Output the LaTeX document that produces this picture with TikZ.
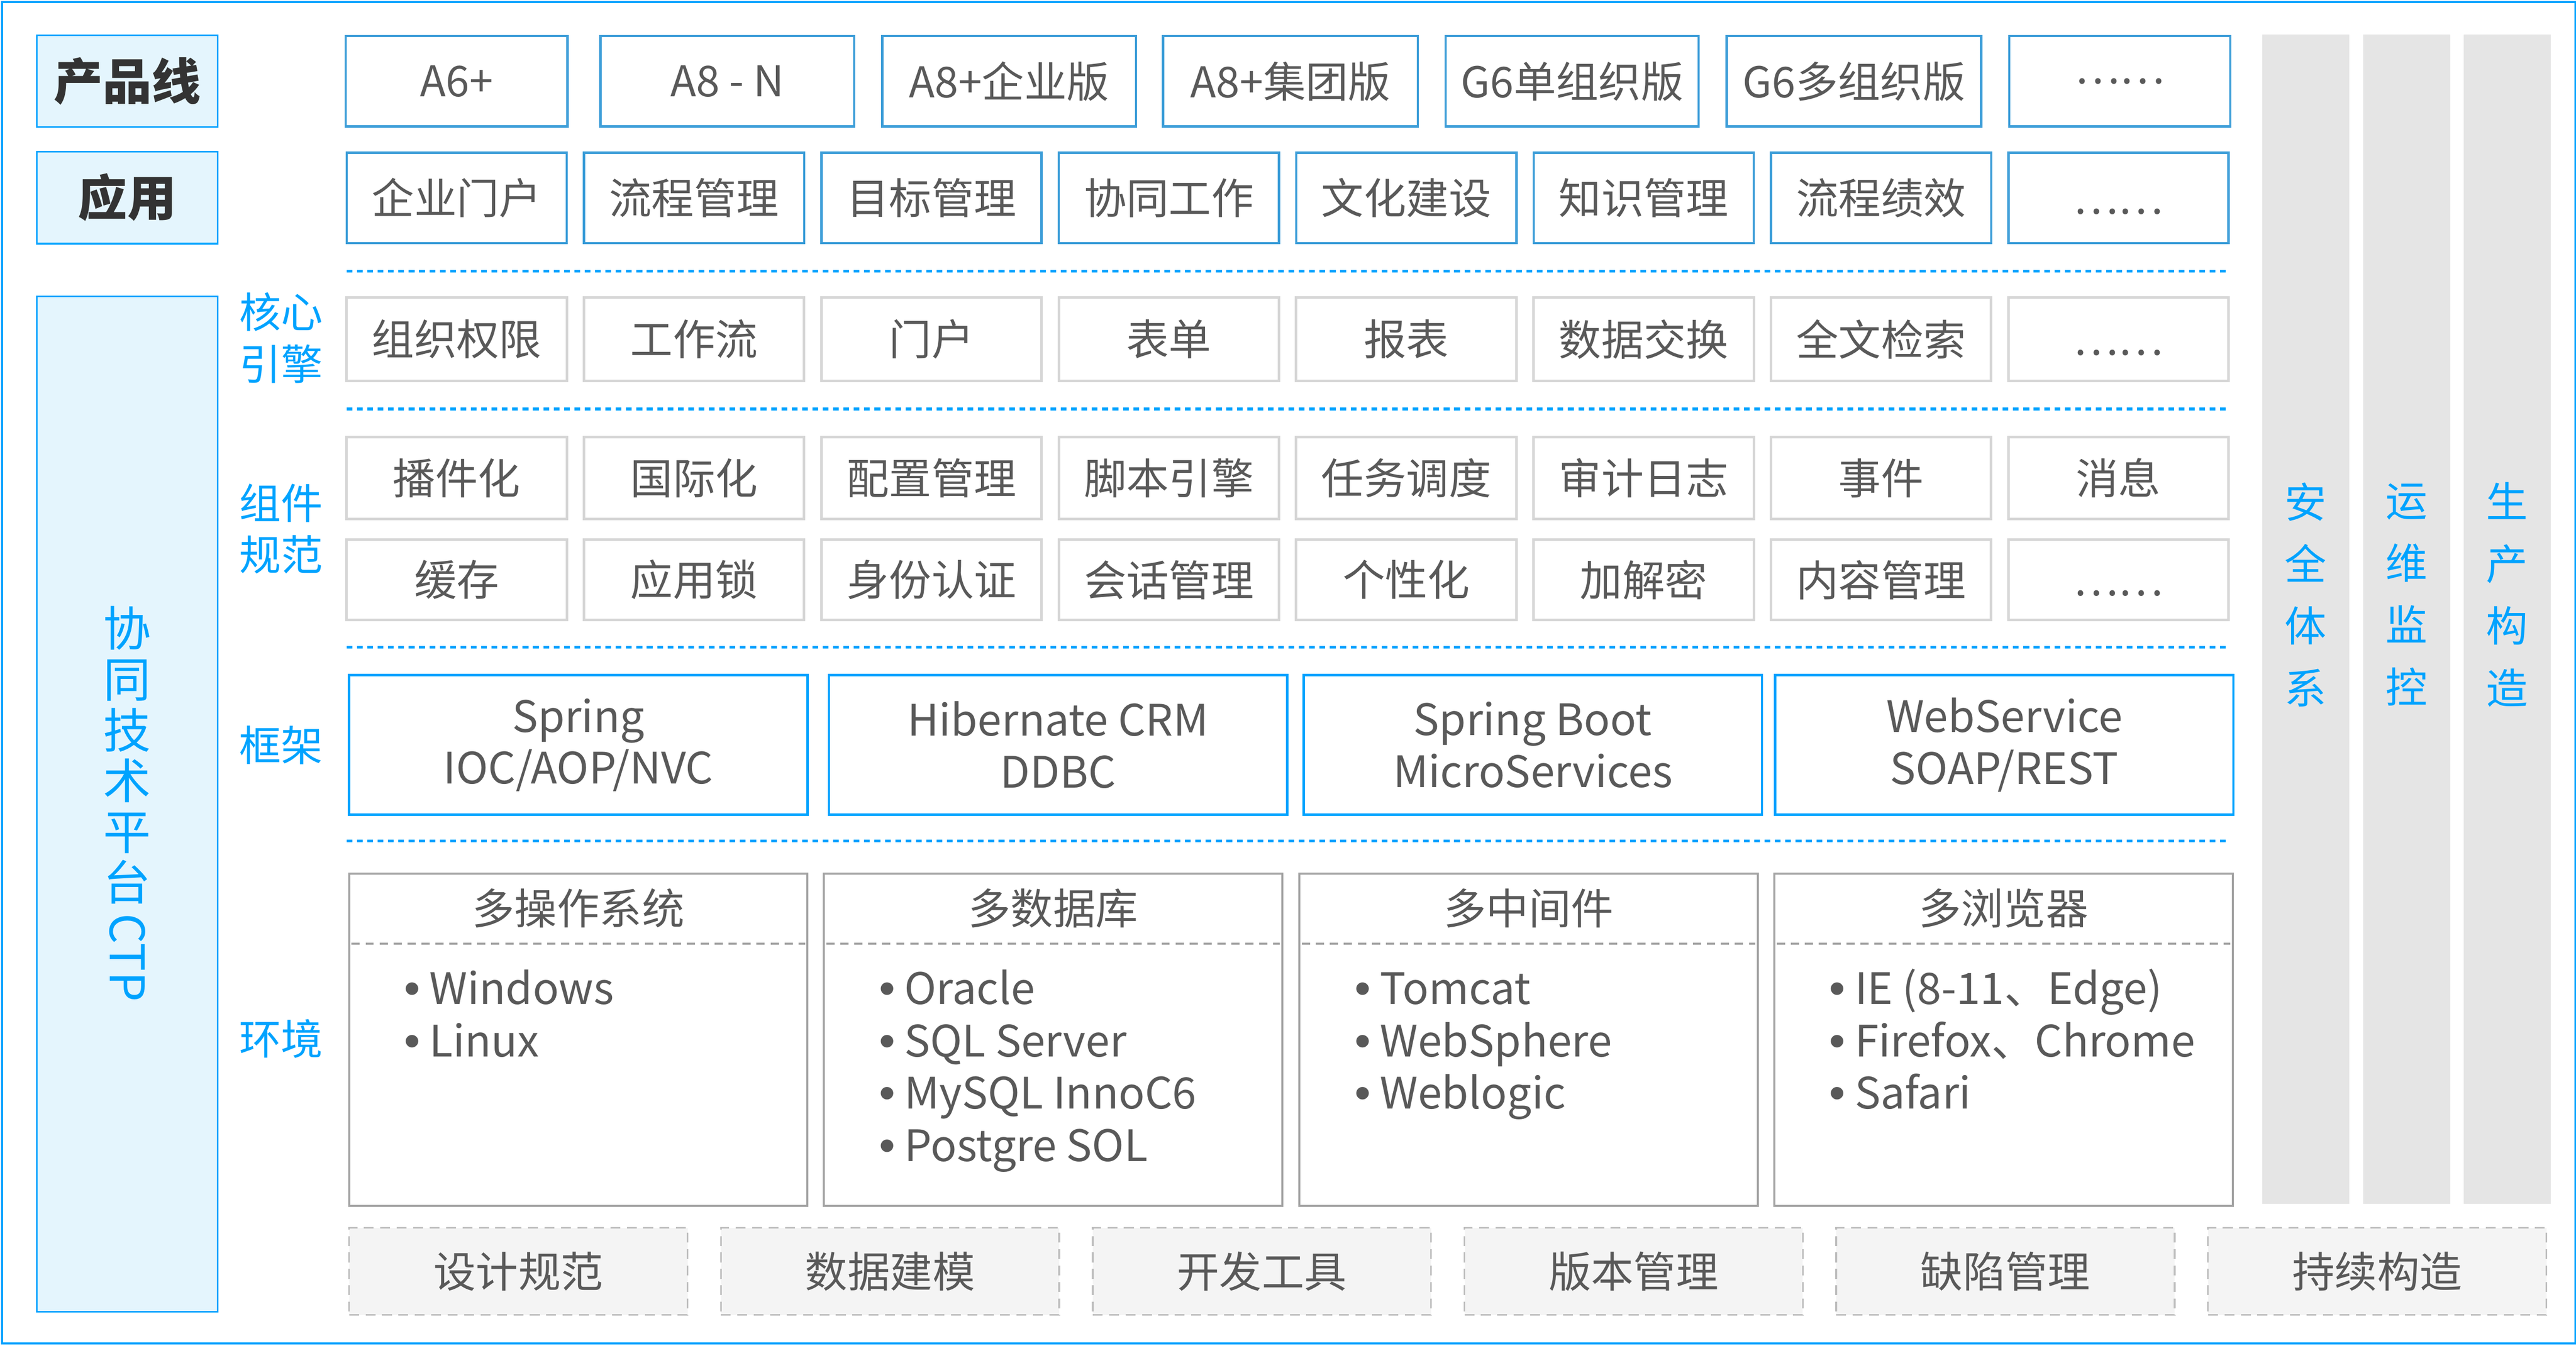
\documentclass[tikz,border=0pt]{standalone}
\usepackage{fontspec}
\setmainfont{Noto Sans CJK SC}
\newfontfamily\bulletfont{Liberation Sans}
\usetikzlibrary{positioning}
\definecolor{ctpblue}{HTML}{00A3FF}
\definecolor{rowblue}{HTML}{3C9DD8}
\definecolor{labelfill}{HTML}{E4F5FD}
\definecolor{cellgray}{HTML}{D6D6D6}
\definecolor{envgray}{HTML}{A3A3A3}
\definecolor{pillargray}{HTML}{E5E5E5}
\definecolor{toolfill}{HTML}{F4F4F4}
\definecolor{tooldash}{HTML}{BEBEBE}
\definecolor{boxtext}{HTML}{595959}
\definecolor{headtext}{HTML}{333333}
\def\unitpx{0.2mm}
\newcommand\boxfont{\fontsize{14.7}{17.6}\selectfont}
\newcommand\listfont{\fontsize{15}{17.9}\selectfont}
\newcommand\lowdots{\vphantom{门}……}
\newcommand\envbullet{{\bulletfont\fontsize{16}{18}\selectfont •}\kern3.2pt}
\tikzset{
  every node/.style={inner sep=0pt,outer sep=0pt},
  sidehead/.style={draw=ctpblue,fill=labelfill,line width=0.6pt,text=headtext,font=\fontsize{17}{20}\selectfont\bfseries,minimum width=110*\unitpx},
  prodbox/.style={draw=rowblue,line width=0.8pt,text=boxtext,font=\boxfont,minimum height=55*\unitpx},
  cellbox/.style={draw=cellgray,line width=0.9pt,text=boxtext,font=\boxfont,minimum width=134*\unitpx},
  frambox/.style={draw=ctpblue,line width=0.8pt,text=boxtext,font=\listfont,align=center,minimum width=279*\unitpx,minimum height=85*\unitpx},
  envbox/.style={draw=envgray,line width=0.7pt,minimum width=279*\unitpx,minimum height=202*\unitpx},
  envhead/.style={text=boxtext,font=\boxfont},
  envitem/.style={text=boxtext,font=\listfont,anchor=base west},
  envdiv/.style={draw=envgray,line width=0.6pt,dash pattern=on 1mm off 0.7mm},
  toolbox/.style={draw=tooldash,fill=toolfill,line width=0.6pt,dash pattern=on 1.2mm off 0.8mm,text=boxtext,font=\boxfont,minimum width=206*\unitpx,minimum height=53*\unitpx},
  pillar/.style={fill=pillargray,minimum width=53*\unitpx,minimum height=712*\unitpx},
  pillartext/.style={text=ctpblue,font=\fontsize{14.5}{21.5}\selectfont,align=center},
  layerlabel/.style={text=ctpblue,font=\fontsize{14.5}{17.9}\selectfont,align=center},
  sepline/.style={draw=ctpblue,line width=0.9pt,dash pattern=on 0.7mm off 0.56mm},
}
\begin{document}
\begin{tikzpicture}[x=0.2mm,y=-0.2mm]
  \useasboundingbox (0,0) rectangle (1568,819.2);
  \draw[ctpblue,line width=0.7pt] (1.2,1.2) rectangle (1567.6,817.8);

  \node[sidehead,minimum height=56*\unitpx] (prodline) at (77.5,49.4) {产品线};
  \node[sidehead,minimum height=56*\unitpx] (apps) at (77.5,120.3) {应用};
  \node[sidehead,minimum height=618*\unitpx] (ctp) at (77.5,489.5) {};
  \node[text=ctpblue,font=\fontsize{16.5}{17.6}\selectfont,align=center] (ctplabel) at (ctp.center) {协\\同\\技\\术\\平\\台\\[-13pt]\rotatebox{-90}{CTP}};

  \node[layerlabel] (lcore)  at (171,205.7) {核心\\引擎};
  \node[layerlabel] (lcomp)  at (171,322)   {组件\\规范};
  \node[layerlabel] (lframe) at (171,453.5) {框架};
  \node[layerlabel] (lenv)   at (171,632.5) {环境};

  \foreach \l/\r/\lbl [count=\i] in {210.5/345.5/A6+,365.5/520/A8 - N,537/691.5/A8+企业版,708/863/A8+集团版,880/1034/G6单组织版,1051/1206/G6多组织版,1223/1357.5/……}
    \node[prodbox,minimum width={(\r-\l)*\unitpx}] (prod\i) at ({(\l+\r)/2},49.5) {\lbl};
  \foreach \lbl [count=\i] in {企业门户,流程管理,目标管理,协同工作,文化建设,知识管理,流程绩效,\lowdots}
    \node[prodbox,minimum width=134*\unitpx] (app\i) at ({278+(\i-1)*144.5},120.5) {\lbl};

  \foreach \y in {165,249,394,512}
    \draw[sepline] (211,\y) -- (1355,\y);

  \foreach \lbl [count=\i] in {组织权限,工作流,门户,表单,报表,数据交换,全文检索,\lowdots}
    \node[cellbox,minimum height=51*\unitpx] (core\i) at ({278+(\i-1)*144.5},206.5) {\lbl};
  \foreach \lbl [count=\i] in {播件化,国际化,配置管理,脚本引擎,任务调度,审计日志,事件,消息}
    \node[cellbox,minimum height=50*\unitpx] (compa\i) at ({278+(\i-1)*144.5},291) {\lbl};
  \foreach \lbl [count=\i] in {缓存,应用锁,身份认证,会话管理,个性化,加解密,内容管理,\lowdots}
    \node[cellbox,minimum height=49*\unitpx] (compb\i) at ({278+(\i-1)*144.5},353) {\lbl};

  \foreach \x/\lbl [count=\i] in {352/{Spring\\IOC/AOP/NVC},644/{Hibernate CRM\\DDBC},933/{Spring Boot\\MicroServices},1220/{WebService\\SOAP/REST}}
    \node[frambox] (fw\i) at (\x,453.5) {\lbl};

  \foreach \x/\lbl/\items [count=\i] in {352/多操作系统/{Windows,Linux},641/多数据库/{Oracle,SQL Server,MySQL InnoC6,Postgre SOL},930.5/多中间件/{Tomcat,WebSphere,Weblogic},1219.5/多浏览器/{IE (8-11、Edge),Firefox、Chrome,Safari}}{
    \node[envbox] (env\i) at (\x,633) {};
    \node[envhead] (envhead\i) at (\x,553) {\lbl};
    \draw[envdiv] (\x-138,574.5) -- (\x+138,574.5);
    \foreach \entry [count=\j] in \items
      \node[envitem] (item\i-\j) at (\x-106,{611.5+(\j-1)*31.8}) {\envbullet\entry};
  }

  \foreach \lbl [count=\i] in {设计规范,数据建模,开发工具,版本管理,缺陷管理,持续构造}
    \node[toolbox] (tool\i) at ({315.5+(\i-1)*226.3},774) {\lbl};

  \foreach \x/\lbl [count=\i] in {1403.5/{安\\全\\体\\系},1465/{运\\维\\监\\控},1526/{生\\产\\构\\造}}{
    \node[pillar] (pillar\i) at (\x,377) {};
    \node[pillartext] (pillarlabel\i) at (\x,362) {\lbl};
  }
\end{tikzpicture}
\end{document}
